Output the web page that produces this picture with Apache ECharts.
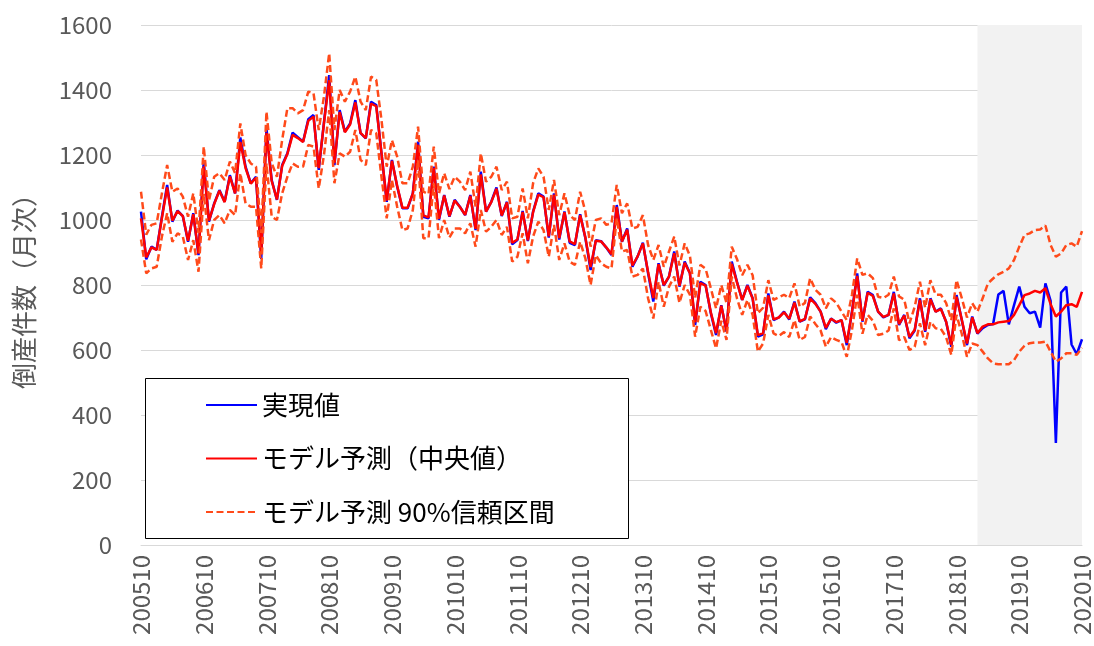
<!DOCTYPE html>
<html><head><meta charset="utf-8">
<script src="https://cdn.jsdelivr.net/npm/echarts@6/dist/echarts.min.js"></script>
<style>html,body{margin:0;padding:0;background:#fff}#c{width:1094px;height:646px}</style>
</head><body><div id="c"></div>
<script>
// Month labels 200510 .. 202010
const startYear = 2005, startMonth = 10, monthCount = 181;
const categories = [];
for (let k = 0; k < monthCount; k++) {
  const m = startMonth - 1 + k;
  const y = startYear + Math.floor(m / 12);
  const mm = (m % 12) + 1;
  categories.push(String(y) + (mm < 10 ? '0' + mm : String(mm)));
}
const yTicks = [0, 200, 400, 600, 800, 1000, 1200, 1400, 1600];

const actual = [
1026,879,918,908,1010,1108,995,1029,1012,933,1021,892,
1180,995,1051,1092,1056,1138,1082,1254,1164,1113,1133,880,
1282,1123,1062,1169,1205,1269,1255,1241,1310,1323,1154,1300,
1446,1169,1338,1272,1297,1369,1267,1251,1364,1354,1205,1056,
1185,1103,1036,1036,1082,1241,1010,1005,1164,1000,1077,1010,
1062,1041,1015,1077,969,1149,1026,1056,1100,1012,1056,925,
938,1028,935,1026,1082,1072,946,1082,940,1026,930,923,
1018,945,846,938,935,915,892,1046,933,974,856,888,
930,836,749,867,798,826,903,795,872,836,677,810,
800,713,646,738,656,872,810,754,800,759,641,648,
774,692,700,718,694,749,687,694,762,744,718,664,
697,684,692,615,718,836,687,779,769,718,700,708,
779,677,708,636,660,759,656,759,718,728,687,610,
769,692,615,703,650,667,677,680,771,782,679,738,
795,733,713,718,669,805,751,314,777,795,617,587,
633];

const median = [
1005,885,916,908,1006,1100,998,1027,1012,936,1018,897,
1165,998,1049,1090,1055,1134,1082,1240,1160,1112,1130,895,
1268,1120,1063,1166,1203,1262,1252,1240,1305,1318,1160,1298,
1430,1175,1332,1270,1294,1362,1268,1252,1358,1350,1206,1060,
1182,1105,1038,1038,1082,1232,1014,1008,1160,1004,1075,1012,
1060,1040,1016,1074,973,1140,1026,1055,1096,1014,1054,930,
940,1025,938,1024,1078,1070,950,1078,944,1024,934,926,
1015,946,855,936,934,916,895,1040,934,970,860,888,
928,840,760,864,800,826,898,798,868,836,685,806,
798,716,652,736,660,865,808,754,798,758,646,652,
768,694,700,716,696,746,688,696,758,742,718,668,
696,686,692,622,716,828,690,776,766,718,702,708,
774,680,706,640,662,754,660,756,718,726,688,616,
764,694,620,700,652,672,679,679,685,687,689,708,
738,769,774,782,777,790,741,703,718,738,741,733,
779];

const upper = [
1087,955,985,990,1082,1169,1087,1097,1072,1010,1082,960,
1226,1060,1133,1144,1123,1180,1144,1297,1200,1174,1164,960,
1333,1175,1133,1246,1344,1344,1328,1338,1395,1390,1277,1380,
1513,1277,1400,1364,1395,1441,1364,1338,1441,1431,1308,1164,
1246,1195,1113,1113,1164,1287,1087,1080,1226,1082,1144,1095,
1133,1118,1092,1149,1041,1205,1118,1133,1164,1092,1118,1005,
1010,1097,1005,1113,1159,1133,1031,1123,1015,1082,1015,1000,
1087,1026,918,1000,1005,985,990,1108,1021,1051,974,979,
1015,923,877,923,856,903,949,860,928,890,760,862,
850,790,728,800,745,918,880,830,862,830,713,730,
815,754,762,770,760,805,733,745,821,785,770,728,
759,745,718,692,770,882,831,836,821,764,760,770,
826,765,755,682,733,810,730,815,770,770,745,692,
815,760,700,744,718,759,805,820,833,841,851,877,
918,954,959,969,971,983,923,887,897,923,928,918,
966];

const lower = [
940,836,851,856,949,1021,933,959,949,877,938,841,
1080,938,1000,1015,990,1031,1015,1144,1051,1041,1041,851,
1174,1010,1000,1082,1133,1174,1164,1164,1231,1226,1097,1200,
1338,1113,1205,1195,1210,1277,1185,1169,1277,1267,1133,1005,
1123,1041,969,974,1031,1185,944,944,1113,944,1000,946,
974,974,959,990,918,1031,964,979,1000,954,979,872,
887,959,867,949,995,969,887,985,877,928,872,862,
933,882,800,892,867,856,851,1005,903,908,826,831,
851,759,697,810,733,795,826,745,800,770,641,733,
720,662,605,690,631,826,759,708,754,708,595,620,
708,651,643,655,640,692,631,640,703,680,660,610,
640,631,625,579,662,770,650,708,690,646,650,660,
728,630,640,600,610,682,615,687,667,665,640,585,
708,650,579,620,615,595,574,559,556,556,556,569,
595,613,621,623,623,626,595,564,574,590,590,585,
607];

const forecastStart = '201902', forecastEnd = '202010';
const nameActual = '実現値', nameMedian = 'モデル予測（中央値）', nameBand = 'モデル予測 90%信頼区間';

const FONT = '"Noto Sans CJK JP", "Noto Sans", sans-serif';
const chart = echarts.init(document.getElementById('c'), null, {renderer: 'canvas'});
chart.setOption({
  animation: false,
  backgroundColor: '#ffffff',
  textStyle: {fontFamily: FONT},
  grid: {left: 141, right: 11, top: 25, bottom: 101, containLabel: false},
  xAxis: {
    type: 'category', data: categories, boundaryGap: false,
    axisLine: {show: true, lineStyle: {color: '#d9d9d9', width: 1}},
    axisTick: {show: false},
    axisLabel: {interval: 11, rotate: 90, color: '#595959', fontSize: 24, margin: 10, fontFamily: FONT},
    splitLine: {show: false}
  },
  yAxis: {
    type: 'value', min: yTicks[0], max: yTicks[yTicks.length - 1], interval: 200,
    name: '倒産件数（月次）', nameLocation: 'middle', nameRotate: 90, nameGap: 104,
    nameTextStyle: {color: '#595959', fontSize: 26, fontFamily: FONT},
    axisLine: {show: false}, axisTick: {show: false},
    axisLabel: {color: '#595959', fontSize: 24, margin: 29, fontFamily: FONT,
      formatter: function (v) { return String(v); }},
    splitLine: {lineStyle: {color: '#d9d9d9', width: 1}}
  },
  legend: {
    orient: 'vertical', left: 205, top: 391, padding: 0,
    itemWidth: 51, itemHeight: 14, itemGap: 25.5,
    itemStyle: {opacity: 0},
    data: [nameActual, nameMedian, nameBand],
    textStyle: {color: '#000', fontSize: 26, lineHeight: 28, fontFamily: FONT}
  },
  graphic: [{
    type: 'rect', z: 1, shape: {x: 145.5, y: 378.5, width: 483, height: 160},
    style: {fill: '#fff', stroke: '#000', lineWidth: 1}
  }],
  series: [
    {name: nameActual, type: 'line', data: actual, symbol: 'none',
     lineStyle: {color: '#0000ff', width: 2.5}, itemStyle: {color: '#0000ff'},
     markArea: {silent: true, itemStyle: {color: '#f2f2f2'},
       data: [[{xAxis: forecastStart}, {xAxis: forecastEnd}]]}, z: 2},
    {name: nameMedian, type: 'line', data: median, symbol: 'none',
     lineStyle: {color: '#ff0000', width: 2.5}, itemStyle: {color: '#ff0000'}, z: 3},
    {name: nameBand, type: 'line', data: upper, symbol: 'none',
     lineStyle: {color: '#ff4a1a', width: 2.5, type: [7, 3.5]}, itemStyle: {color: '#ff4a1a'}, z: 3},
    {name: nameBand, type: 'line', data: lower, symbol: 'none',
     lineStyle: {color: '#ff4a1a', width: 2.5, type: [7, 3.5]}, itemStyle: {color: '#ff4a1a'}, z: 3}
  ]
});
</script></body></html>
